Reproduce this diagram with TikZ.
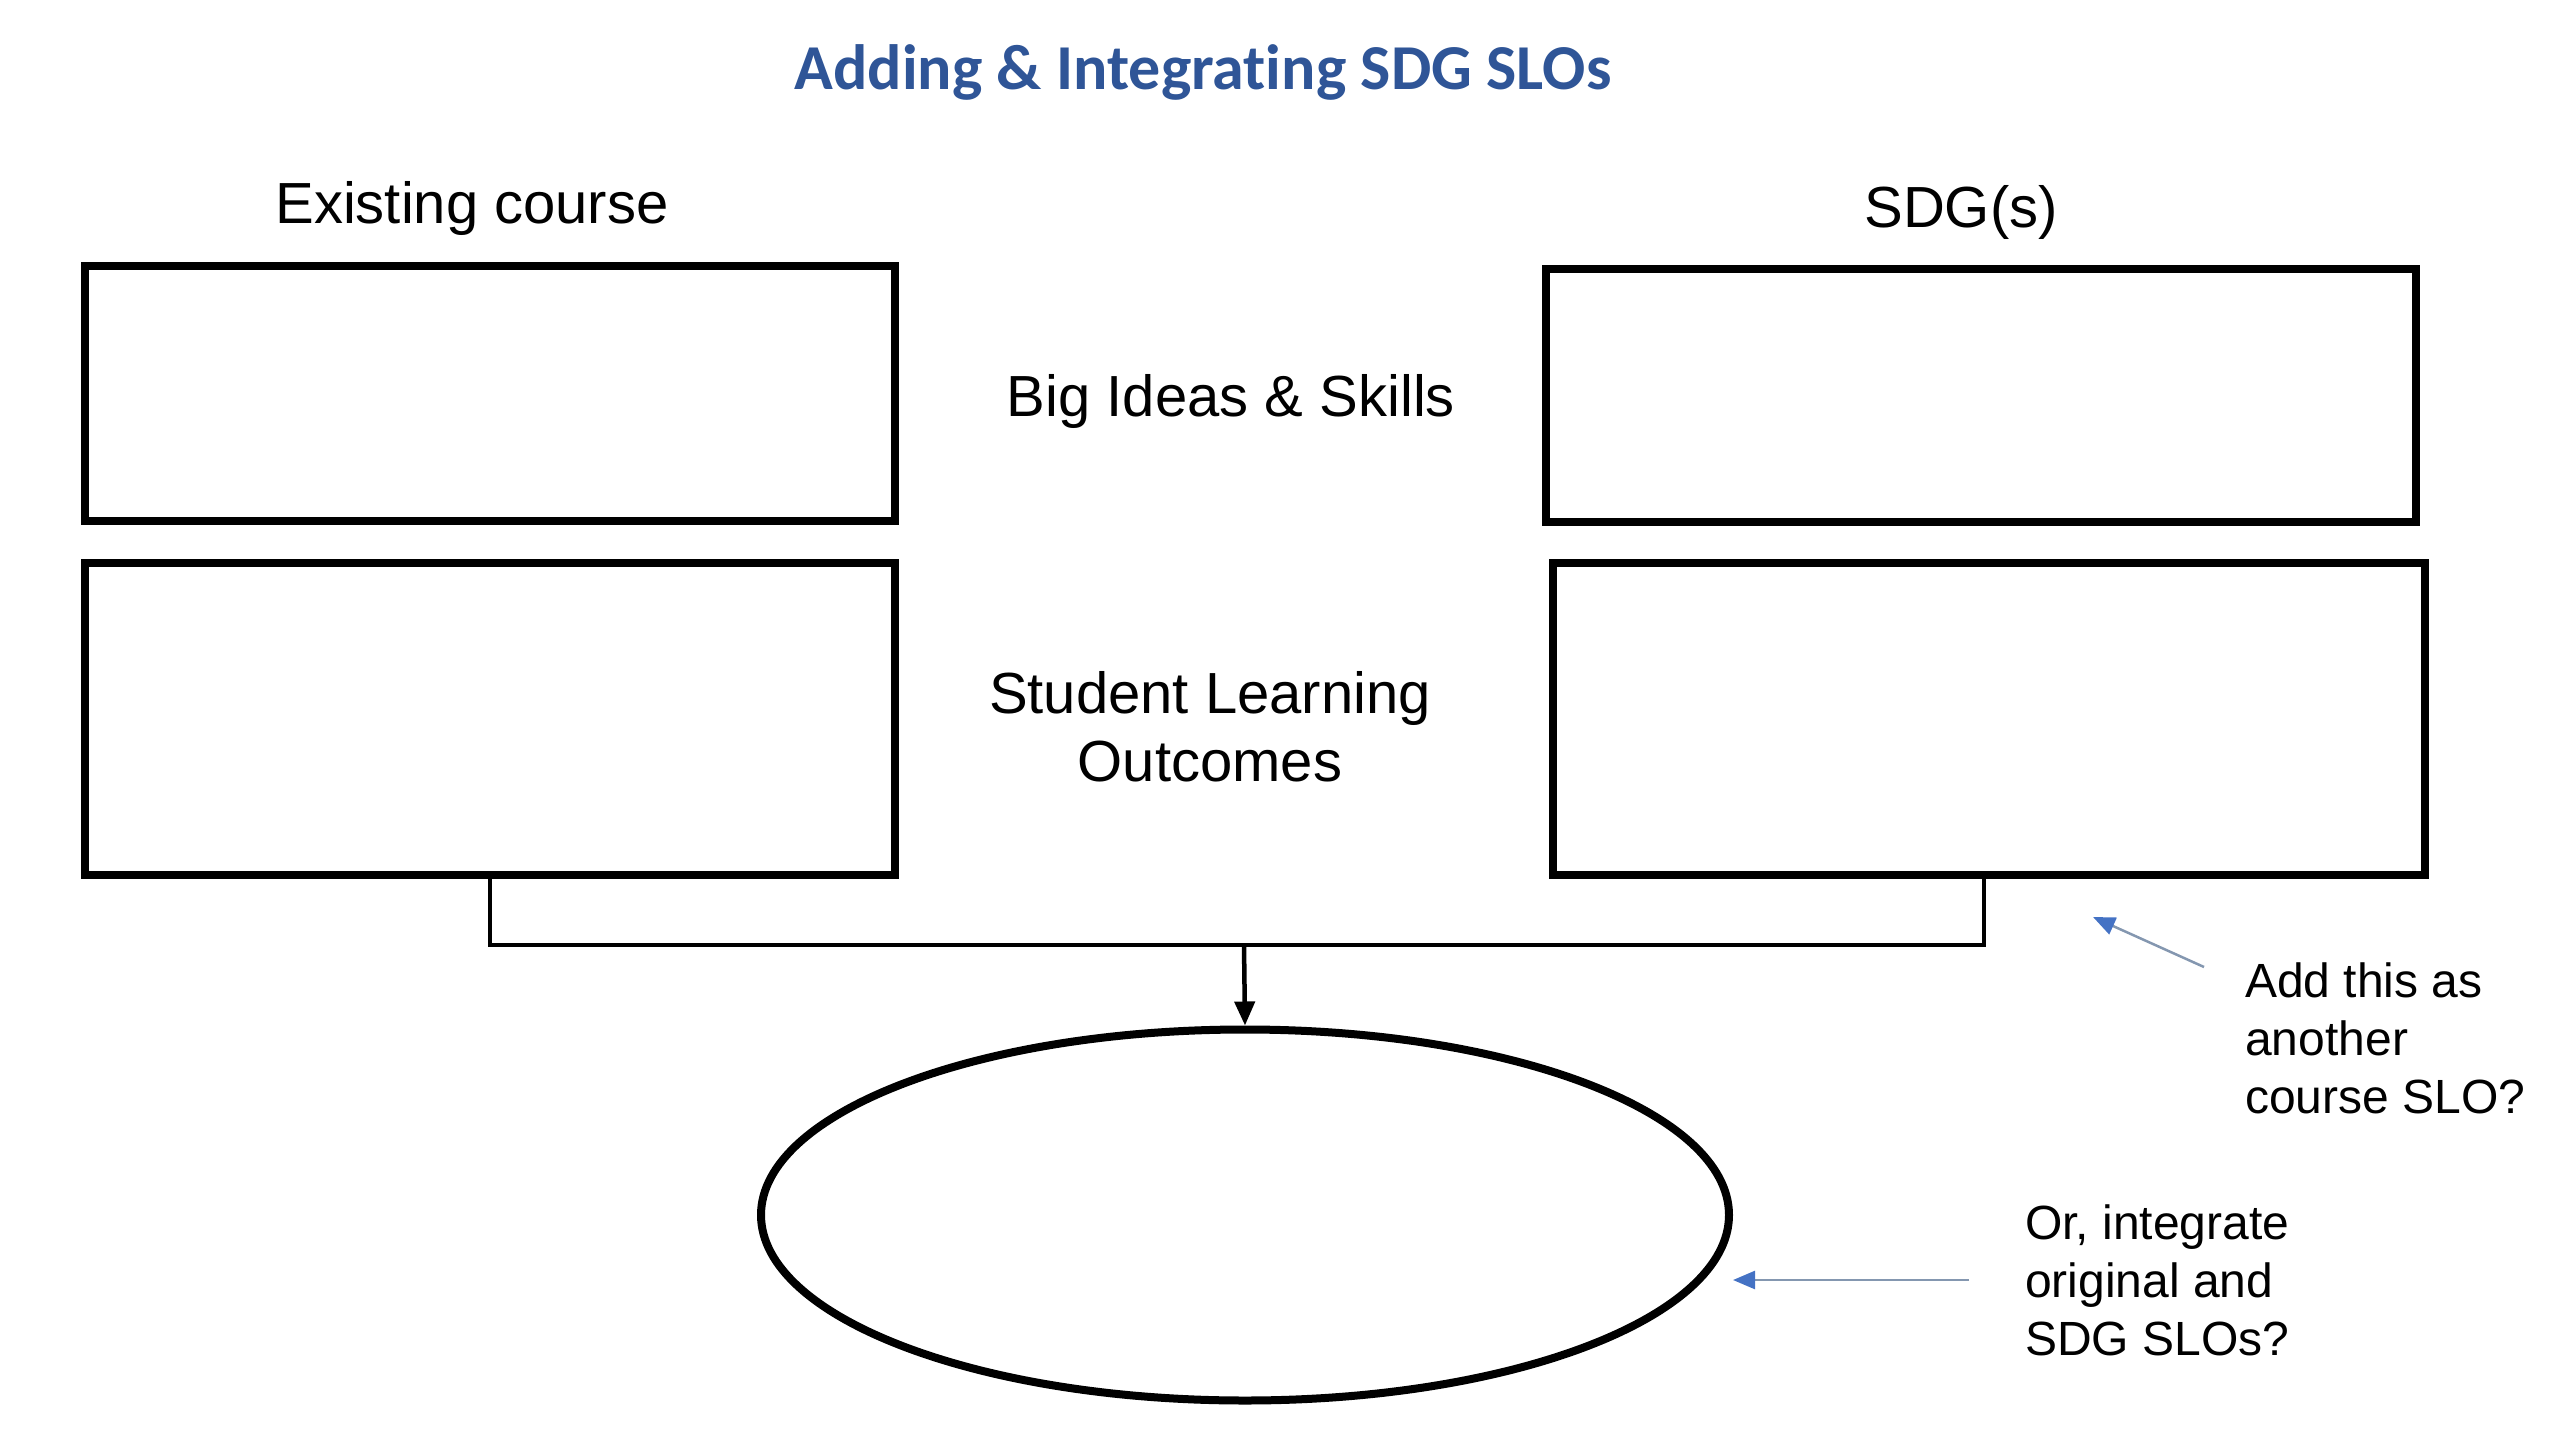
\documentclass[tikz,border=0pt]{standalone}
\usepackage{fontspec}
\setmainfont{Liberation Sans}
\newfontfamily\titlefont[Ligatures=NoCommon]{Carlito}
\usetikzlibrary{shapes.geometric,arrows.meta}
\definecolor{titleblue}{RGB}{47,85,151}
\definecolor{tipblue}{RGB}{68,114,196}
\definecolor{annline}{RGB}{132,151,176}
\tikzset{
  box/.style={draw=black,line width=8pt,rectangle,inner sep=0pt},
  oval/.style={draw=black,line width=8pt,ellipse,inner sep=0pt,minimum width=968pt,minimum height=371pt},
  lbl/.style={inner sep=0pt,align=center,font=\fontsize{58}{68}\selectfont},
  ann/.style={inner sep=0pt,align=left,font=\fontsize{48}{58}\selectfont},
  conn/.style={line width=4.5pt},
  annarrow/.style={draw=annline,line width=2.5pt,-{Triangle[length=22pt,width=18pt,color=tipblue]}}
}
\begin{document}
\begin{tikzpicture}[x=1pt,y=-1pt]
\useasboundingbox (0,0) rectangle (2560,1440);
\node[inner sep=0pt,text=titleblue,font=\titlefont\bfseries\fontsize{64}{74}\selectfont] (title) at (1203,72) {Adding \& Integrating SDG SLOs};
\node[lbl] (hl) at (472,209) {Existing course};
\node[lbl] (hr) at (1961,212) {SDG(s)};
\node[box,minimum width=810pt,minimum height=255pt] (lt) at (490,393) {};
\node[box,minimum width=810pt,minimum height=312pt] (lb) at (490,719) {};
\node[box,minimum width=870pt,minimum height=253pt] (rt) at (1981,395) {};
\node[box,minimum width=872pt,minimum height=312pt] (rb) at (1989,719) {};
\node[lbl] (big) at (1231,401) {Big Ideas \& Skills};
\node[lbl] (slo) at (1210,727) {Student Learning\\Outcomes};
\node[oval] (ell) at (1245,1215) {};
\coordinate (j) at (1244,945);
\coordinate (rfoot) at ([xshift=-5pt]rb.south);
\draw[conn] (lb.south) |- (j) -| (rfoot);
\draw[conn,-{Triangle[length=24pt,width=20pt]}] (j) -- (ell.north);
\node[ann,anchor=north west] (add) at (2245,963) {Add this as\\another\\course SLO?};
\node[ann,anchor=north west] (int) at (2025,1205) {Or, integrate\\original and\\SDG SLOs?};
\coordinate (a1s) at (2204,967);
\coordinate (a1e) at (2093,917);
\coordinate (a2s) at (1969,1280);
\coordinate (a2e) at (1733,1280);
\draw[annarrow] (a1s) -- (a1e);
\draw[annarrow] (a2s) -- (a2e);
\end{tikzpicture}
\end{document}
